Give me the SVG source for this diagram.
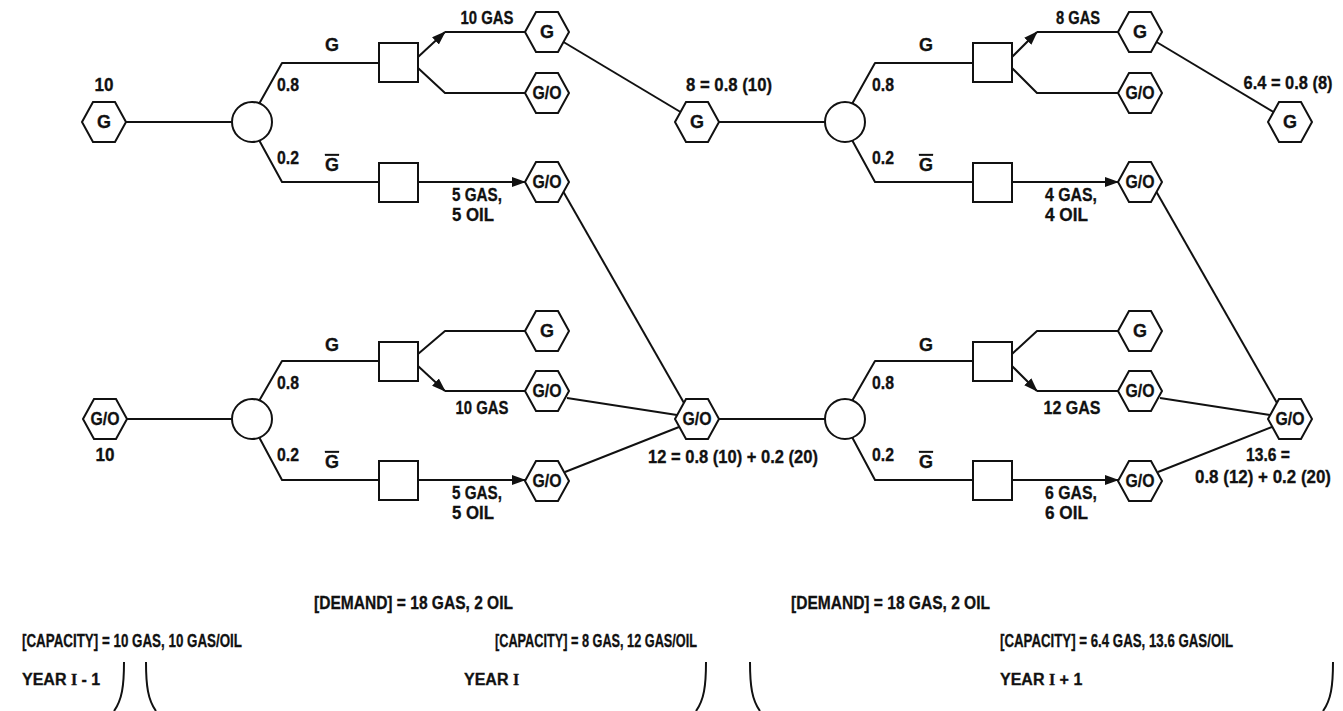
<svg xmlns="http://www.w3.org/2000/svg" width="1343" height="711" viewBox="0 0 1343 711">
<style>
text{font-family:"Liberation Sans Narrow","Liberation Sans",Arial,sans-serif;font-weight:bold;font-size:18px;fill:#111;stroke:#111;stroke-width:0.3}
.c{text-anchor:middle}
.hx,.sq,.ci{fill:#fff;stroke:#111;stroke-width:2}
.ln{fill:none;stroke:#111;stroke-width:2;stroke-linejoin:round}
.ar{marker-end:url(#ah)}
.ob{text-decoration:overline}
.rn{font-family:"Liberation Serif",serif}
.yr{font-size:16px}
</style>
<defs>
<polygon id="hex" points="-22,0 -11,-20 11,-20 22,0 11,20 -11,20"/>
<marker id="ah" markerUnits="userSpaceOnUse" markerWidth="14" markerHeight="10" refX="13" refY="5" orient="auto" viewBox="0 0 14 10"><path d="M0,0 L14,5 L0,10 z" fill="#111"/></marker>
</defs>
<rect width="1343" height="711" fill="#fff"/>

<g id="connectors">
<!-- top left -->
<path class="ln" d="M126,122 H232"/>
<path class="ln" d="M259,104 L282,63 H379"/>
<path class="ln" d="M259,140 L282,182 H379"/>
<path class="ln ar" d="M418,57 L445,32"/>
<path class="ln" d="M445,32 H525"/>
<path class="ln" d="M418,68 L445,93 H525"/>
<path class="ln ar" d="M418,182 H525"/>
<path class="ln" d="M563.5,42 L680.5,112"/>
<path class="ln" d="M563.5,192 L684,403"/>
<!-- top right -->
<path class="ln" d="M719,122 H825"/>
<path class="ln" d="M852,104 L875,63 H973"/>
<path class="ln" d="M852,140 L875,182 H973"/>
<path class="ln ar" d="M1012,57 L1037,32"/>
<path class="ln" d="M1037,32 H1118"/>
<path class="ln" d="M1012,68 L1037,93 H1118"/>
<path class="ln ar" d="M1012,182 H1118"/>
<path class="ln" d="M1156.5,42 L1273.5,112"/>
<path class="ln" d="M1156.5,192 L1277,403"/>
<!-- bottom left -->
<path class="ln" d="M127,419 H232"/>
<path class="ln" d="M259,401 L282,361 H379"/>
<path class="ln" d="M259,437 L282,480 H379"/>
<path class="ln" d="M418,354 L445,331 H525"/>
<path class="ln ar" d="M418,366 L445,391"/>
<path class="ln" d="M445,391 H525"/>
<path class="ln ar" d="M418,480 H525"/>
<path class="ln" d="M567,398 L677,415"/>
<path class="ln" d="M565,472 L679,427"/>
<!-- bottom right -->
<path class="ln" d="M719,419 H825"/>
<path class="ln" d="M852,401 L875,361 H973"/>
<path class="ln" d="M852,437 L875,480 H973"/>
<path class="ln" d="M1012,354 L1037,331 H1118"/>
<path class="ln ar" d="M1012,366 L1037,391"/>
<path class="ln" d="M1037,391 H1118"/>
<path class="ln ar" d="M1012,480 H1118"/>
<path class="ln" d="M1160,398 L1270,415"/>
<path class="ln" d="M1158,472 L1272,427"/>
</g>

<!-- top half nodes -->
<g id="g-start"><use href="#hex" class="hx" x="104" y="122"/><text class="c" x="104" y="128">G</text><text class="c" x="104" y="91" textLength="19" lengthAdjust="spacingAndGlyphs">10</text></g>
<g id="chance-1"><circle class="ci" cx="252" cy="122" r="20"/></g>
<g id="dec-1"><rect class="sq" x="379" y="43" width="39" height="39"/></g>
<g id="dec-2"><rect class="sq" x="379" y="163" width="39" height="39"/></g>
<g id="g-1a"><use href="#hex" class="hx" x="547" y="32"/><text class="c" x="547" y="38">G</text></g>
<g id="go-1a"><use href="#hex" class="hx" x="547" y="93"/><text class="c" x="547" y="99" textLength="29" lengthAdjust="spacingAndGlyphs">G/O</text></g>
<g id="go-1b"><use href="#hex" class="hx" x="547" y="182"/><text class="c" x="547" y="188" textLength="29" lengthAdjust="spacingAndGlyphs">G/O</text></g>
<g id="g-mid"><use href="#hex" class="hx" x="697" y="122"/><text class="c" x="697" y="128">G</text></g>
<g id="chance-2"><circle class="ci" cx="845" cy="122" r="20"/></g>
<g id="dec-3"><rect class="sq" x="973" y="43" width="39" height="39"/></g>
<g id="dec-4"><rect class="sq" x="973" y="163" width="39" height="39"/></g>
<g id="g-2a"><use href="#hex" class="hx" x="1140" y="32"/><text class="c" x="1140" y="38">G</text></g>
<g id="go-2a"><use href="#hex" class="hx" x="1140" y="93"/><text class="c" x="1140" y="99" textLength="29" lengthAdjust="spacingAndGlyphs">G/O</text></g>
<g id="go-2b"><use href="#hex" class="hx" x="1140" y="182"/><text class="c" x="1140" y="188" textLength="29" lengthAdjust="spacingAndGlyphs">G/O</text></g>
<g id="g-end"><use href="#hex" class="hx" x="1290" y="122"/><text class="c" x="1290" y="128">G</text></g>

<!-- bottom half nodes -->
<g id="go-start"><use href="#hex" class="hx" x="105" y="419"/><text class="c" x="105" y="425" textLength="29" lengthAdjust="spacingAndGlyphs">G/O</text><text class="c" x="105" y="461" textLength="19" lengthAdjust="spacingAndGlyphs">10</text></g>
<g id="chance-3"><circle class="ci" cx="252" cy="419" r="20"/></g>
<g id="dec-5"><rect class="sq" x="379" y="342" width="39" height="39"/></g>
<g id="dec-6"><rect class="sq" x="379" y="461" width="39" height="39"/></g>
<g id="g-3a"><use href="#hex" class="hx" x="547" y="331"/><text class="c" x="547" y="337">G</text></g>
<g id="go-3a"><use href="#hex" class="hx" x="547" y="391"/><text class="c" x="547" y="397" textLength="29" lengthAdjust="spacingAndGlyphs">G/O</text></g>
<g id="go-3b"><use href="#hex" class="hx" x="547" y="481"/><text class="c" x="547" y="487" textLength="29" lengthAdjust="spacingAndGlyphs">G/O</text></g>
<g id="go-mid"><use href="#hex" class="hx" x="697" y="419"/><text class="c" x="697" y="425" textLength="29" lengthAdjust="spacingAndGlyphs">G/O</text></g>
<g id="chance-4"><circle class="ci" cx="845" cy="419" r="20"/></g>
<g id="dec-7"><rect class="sq" x="973" y="342" width="39" height="39"/></g>
<g id="dec-8"><rect class="sq" x="973" y="461" width="39" height="39"/></g>
<g id="g-4a"><use href="#hex" class="hx" x="1140" y="331"/><text class="c" x="1140" y="337">G</text></g>
<g id="go-4a"><use href="#hex" class="hx" x="1140" y="391"/><text class="c" x="1140" y="397" textLength="29" lengthAdjust="spacingAndGlyphs">G/O</text></g>
<g id="go-4b"><use href="#hex" class="hx" x="1140" y="481"/><text class="c" x="1140" y="487" textLength="29" lengthAdjust="spacingAndGlyphs">G/O</text></g>
<g id="go-end"><use href="#hex" class="hx" x="1290" y="419"/><text class="c" x="1290" y="425" textLength="29" lengthAdjust="spacingAndGlyphs">G/O</text></g>

<g id="labels">
<text class="c" x="332" y="51">G</text>
<text x="277" y="91" textLength="22" lengthAdjust="spacingAndGlyphs">0.8</text>
<text x="277" y="164" textLength="22" lengthAdjust="spacingAndGlyphs">0.2</text>
<text class="c ob" x="332" y="171">G</text>
<text class="c" x="487" y="24" textLength="53" lengthAdjust="spacingAndGlyphs">10 GAS</text>
<text x="452" y="201" textLength="50" lengthAdjust="spacingAndGlyphs">5 GAS,</text>
<text x="452" y="221" textLength="42" lengthAdjust="spacingAndGlyphs">5 OIL</text>
<text class="c" x="729" y="91" textLength="86" lengthAdjust="spacingAndGlyphs">8 = 0.8 (10)</text>
<text class="c" x="926" y="51">G</text>
<text x="872" y="91" textLength="22" lengthAdjust="spacingAndGlyphs">0.8</text>
<text x="872" y="164" textLength="22" lengthAdjust="spacingAndGlyphs">0.2</text>
<text class="c ob" x="926" y="171">G</text>
<text class="c" x="1078" y="24" textLength="44" lengthAdjust="spacingAndGlyphs">8 GAS</text>
<text x="1045" y="201" textLength="52" lengthAdjust="spacingAndGlyphs">4 GAS,</text>
<text x="1045" y="221" textLength="43" lengthAdjust="spacingAndGlyphs">4 OIL</text>
<text class="c" x="1288" y="89" textLength="89" lengthAdjust="spacingAndGlyphs">6.4 = 0.8 (8)</text>

<text class="c" x="332" y="351">G</text>
<text x="277" y="389" textLength="22" lengthAdjust="spacingAndGlyphs">0.8</text>
<text x="277" y="461" textLength="22" lengthAdjust="spacingAndGlyphs">0.2</text>
<text class="c ob" x="332" y="468">G</text>
<text class="c" x="482" y="414" textLength="53" lengthAdjust="spacingAndGlyphs">10 GAS</text>
<text x="452" y="499" textLength="50" lengthAdjust="spacingAndGlyphs">5 GAS,</text>
<text x="452" y="519" textLength="42" lengthAdjust="spacingAndGlyphs">5 OIL</text>
<text class="c" x="733" y="463" textLength="170" lengthAdjust="spacingAndGlyphs">12 = 0.8 (10) + 0.2 (20)</text>
<text class="c" x="926" y="351">G</text>
<text x="872" y="389" textLength="22" lengthAdjust="spacingAndGlyphs">0.8</text>
<text x="872" y="461" textLength="22" lengthAdjust="spacingAndGlyphs">0.2</text>
<text class="c ob" x="926" y="468">G</text>
<text class="c" x="1072" y="414" textLength="57" lengthAdjust="spacingAndGlyphs">12 GAS</text>
<text x="1045" y="499" textLength="52" lengthAdjust="spacingAndGlyphs">6 GAS,</text>
<text x="1045" y="519" textLength="43" lengthAdjust="spacingAndGlyphs">6 OIL</text>
<text class="c" x="1268" y="461" textLength="44" lengthAdjust="spacingAndGlyphs">13.6 =</text>
<text class="c" x="1263" y="483" textLength="136" lengthAdjust="spacingAndGlyphs">0.8 (12) + 0.2 (20)</text>
</g>

<g id="summary">
<text x="314" y="609" textLength="199" lengthAdjust="spacingAndGlyphs">[DEMAND] = 18 GAS, 2 OIL</text>
<text x="791" y="609" textLength="199" lengthAdjust="spacingAndGlyphs">[DEMAND] = 18 GAS, 2 OIL</text>
<text x="22" y="647" textLength="220" lengthAdjust="spacingAndGlyphs">[CAPACITY] = 10 GAS, 10 GAS/OIL</text>
<text x="495" y="647" textLength="202" lengthAdjust="spacingAndGlyphs">[CAPACITY] = 8 GAS, 12 GAS/OIL</text>
<text x="1000" y="647" textLength="233" lengthAdjust="spacingAndGlyphs">[CAPACITY] = 6.4 GAS, 13.6 GAS/OIL</text>
<text class="yr" x="22" y="685">YEAR <tspan class="rn">I</tspan> - 1</text>
<text class="yr" x="464" y="685">YEAR <tspan class="rn">I</tspan></text>
<text class="yr" x="1000" y="685">YEAR <tspan class="rn">I</tspan> + 1</text>
<path class="ln" d="M124,662 C124,686 122,700 114,711"/>
<path class="ln" d="M146,662 C146,686 148,700 156,711"/>
<path class="ln" d="M706,662 C706,686 704,700 696,711"/>
<path class="ln" d="M750,662 C750,686 752,700 760,711"/>
<path class="ln" d="M1333,662 C1333,686 1331,700 1323,711"/>
</g>
</svg>
